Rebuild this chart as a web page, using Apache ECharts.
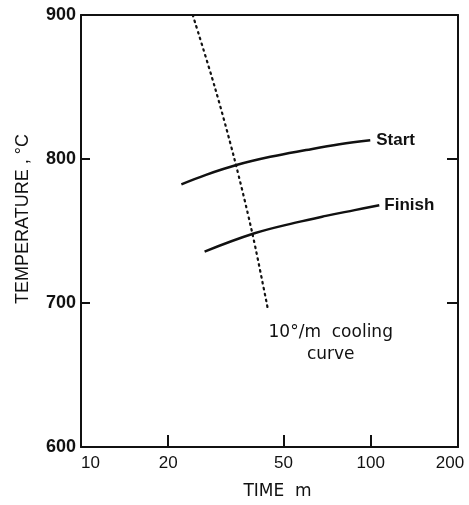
<!DOCTYPE html>
<html>
<head>
<meta charset="utf-8">
<title>Transformation temperature vs time</title>
<script src="https://cdn.jsdelivr.net/npm/echarts@6/dist/echarts.min.js"></script>
<style>
  html, body { margin: 0; padding: 0; background: #fff; }
  #chart { width: 469px; height: 505px; }
</style>
</head>
<body>
<div id="chart"></div>
<script>
// Time (minutes, log scale) and temperature (°C) readings for each curve
const startTime = [22.2, 27, 34.4, 45, 59.8, 78, 99.6];
const startTemp = [782.4, 789, 795.8, 801.5, 806.2, 810.2, 813];

const finishTime = [26.7, 39.7, 55, 70, 88, 107];
const finishTemp = [735.7, 748.4, 755.8, 760.5, 764.5, 767.9];

const coolTime = [24.3, 28.95, 33.85, 38.86, 43.74, 44.1];
const coolTemp = [900, 850, 800, 750, 700, 696];

const xTickLabels = [10, 20, 50, 100, 200];
const xTickMarks = [20, 50, 100];
const yTicks = [600, 700, 800, 900];

const pairs = (xs, ys) => xs.map((x, i) => [x, ys[i]]);

const ink = '#111';

const chart = echarts.init(document.getElementById('chart'), null, { renderer: 'canvas' });

chart.setOption({
  animation: false,
  backgroundColor: '#fff',
  grid: { left: 81, right: 11, top: 15, bottom: 56, containLabel: false },
  xAxis: [
    {
      type: 'log',
      logBase: 10,
      min: 10,
      max: 200,
      name: 'TIME  m',
      nameLocation: 'middle',
      nameGap: 36,
      nameTextStyle: {
        fontFamily: 'DejaVu Sans', fontSize: 17, color: ink,
        padding: [0, 0, 0, 16]
      },
      axisLine: { show: true, onZero: false, lineStyle: { color: ink, width: 2 } },
      axisTick: {
        show: true, inside: true, length: 12,
        customValues: xTickMarks,
        lineStyle: { color: ink, width: 2 }
      },
      axisLabel: {
        show: true,
        customValues: xTickLabels,
        margin: 8,
        fontFamily: 'Liberation Sans', fontSize: 17, color: ink,
        alignMinLabel: 'left', alignMaxLabel: 'center',
        formatter: v => (v === 200 ? '{last|' + v + '}' : String(v)),
        rich: {
          last: { fontFamily: 'Liberation Sans', fontSize: 17, color: ink, padding: [0, 16, 0, 0] }
        }
      },
      minorTick: { show: false },
      splitLine: { show: false }
    },
    {
      type: 'log', logBase: 10, min: 10, max: 200, position: 'top',
      axisLine: { show: true, onZero: false, lineStyle: { color: ink, width: 2 } },
      axisTick: { show: false }, axisLabel: { show: false }, splitLine: { show: false }
    }
  ],
  yAxis: [
    {
      type: 'value',
      min: 600, max: 900, interval: 100,
      name: 'TEMPERATURE , °C',
      nameLocation: 'middle',
      nameGap: 49,
      nameRotate: 90,
      nameTextStyle: {
        fontFamily: 'Liberation Sans', fontSize: 18, color: ink,
        padding: [0, 0, 0, 24]
      },
      axisLine: { show: true, onZero: false, lineStyle: { color: ink, width: 2 } },
      axisTick: { show: true, inside: true, length: 9, lineStyle: { color: ink, width: 2 } },
      axisLabel: {
        margin: 5,
        fontFamily: 'Liberation Sans', fontWeight: 'bold', fontSize: 18, color: ink,
        formatter: v => (yTicks.includes(v) ? String(v) : '')
      },
      splitLine: { show: false }
    },
    {
      type: 'value', min: 600, max: 900, interval: 100, position: 'right',
      axisLine: { show: true, onZero: false, lineStyle: { color: ink, width: 2 } },
      axisTick: { show: true, inside: true, length: 11, lineStyle: { color: ink, width: 2 } },
      axisLabel: { show: false }, splitLine: { show: false }
    }
  ],
  series: [
    {
      name: 'Start',
      type: 'line',
      data: pairs(startTime, startTemp),
      smooth: 0.4,
      showSymbol: false,
      symbol: 'none',
      lineStyle: { color: ink, width: 2.5 },
      endLabel: {
        show: true, formatter: 'Start', distance: 6,
        fontFamily: 'Liberation Sans', fontWeight: 'bold', fontSize: 17, color: ink
      }
    },
    {
      name: 'Finish',
      type: 'line',
      data: pairs(finishTime, finishTemp),
      smooth: 0.4,
      showSymbol: false,
      symbol: 'none',
      lineStyle: { color: ink, width: 2.5 },
      endLabel: {
        show: true, formatter: 'Finish', distance: 5,
        fontFamily: 'Liberation Sans', fontWeight: 'bold', fontSize: 17, color: ink
      }
    },
    {
      name: '10°/m cooling curve',
      type: 'line',
      data: pairs(coolTime, coolTemp),
      smooth: 0.3,
      showSymbol: false,
      symbol: 'none',
      lineStyle: { color: ink, width: 2.2, type: [1.5, 4.5], cap: 'round' },
      endLabel: {
        show: true,
        formatter: '10°/m  cooling\ncurve',
        distance: 63,
        align: 'center',
        verticalAlign: 'top',
        padding: [13, 0, 0, 0],
        lineHeight: 22,
        fontFamily: 'DejaVu Sans', fontSize: 17, color: ink
      }
    }
  ]
});
</script>
</body>
</html>
